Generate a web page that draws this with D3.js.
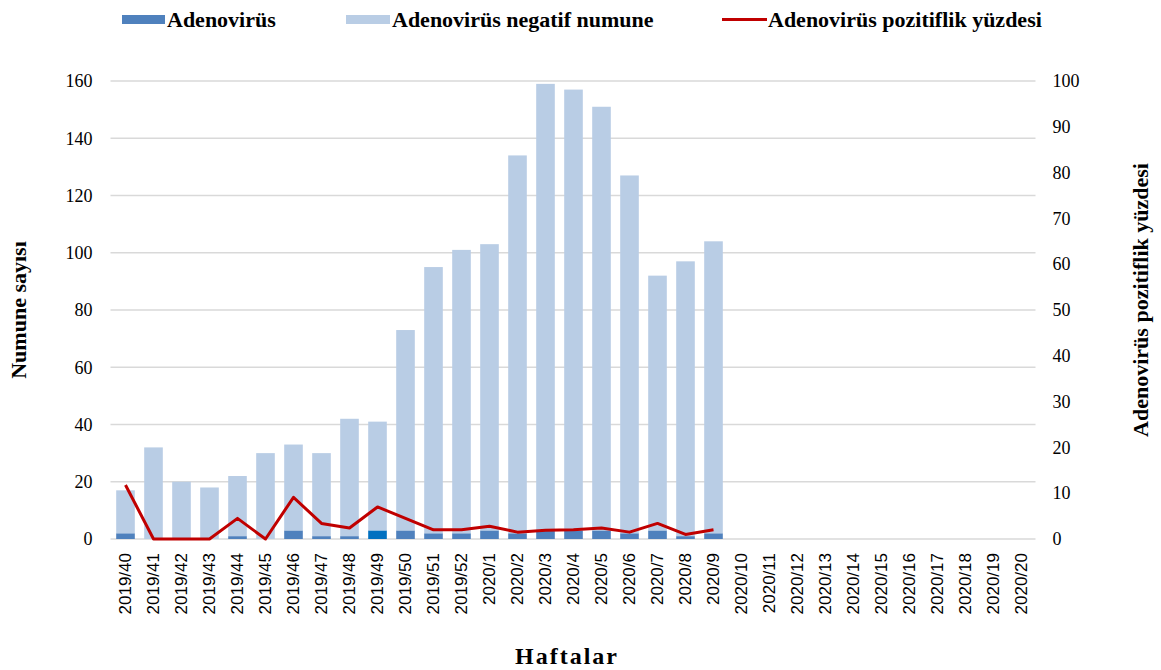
<!DOCTYPE html>
<html>
<head>
<meta charset="utf-8">
<script src="https://cdn.jsdelivr.net/npm/d3@7"></script>
<style>
  html, body { margin: 0; padding: 0; background: #fff; }
  svg { display: block; }
</style>
</head>
<body>
<svg id="chart" width="1161" height="670"></svg>
<script>
// Weeks on the category axis (2019/40 .. 2020/20)
const weeks = [
  "2019/40","2019/41","2019/42","2019/43","2019/44","2019/45","2019/46","2019/47",
  "2019/48","2019/49","2019/50","2019/51","2019/52",
  "2020/1","2020/2","2020/3","2020/4","2020/5","2020/6","2020/7","2020/8","2020/9",
  "2020/10","2020/11","2020/12","2020/13","2020/14","2020/15","2020/16","2020/17",
  "2020/18","2020/19","2020/20"
];

// Adenovirus positive samples per week
const positive = [2,0,0,0,1,0,3,1,1,3,3,2,2,3,2,3,3,3,2,3,1,2];

// Adenovirus negative samples per week (stacked above the positives)
const negative = [15,32,20,18,21,30,30,29,41,38,70,93,99,100,132,156,154,148,125,89,96,102];

// Weekly positivity rate (%)
const positivity = [11.8,0,0,0,4.5,0,9.1,3.4,2.4,7.0,4.5,2.0,2.0,2.8,1.5,1.9,2.0,2.4,1.5,3.4,1.0,2.0];

const leftTicks = [0,20,40,60,80,100,120,140,160];
const rightTicks = [0,10,20,30,40,50,60,70,80,90,100];

const legendLabels = ["Adenovirüs", "Adenovirüs negatif numune", "Adenovirüs pozitiflik yüzdesi"];

const colPos = "#4F81BD";
const colPosStrong = "#0070C0";
const colNeg = "#B9CDE5";
const colLine = "#C00000";
const colGrid = "#D9D9D9";

const serif = "'Liberation Serif', 'Times New Roman', serif";
const sans = "'Liberation Sans', Arial, sans-serif";

const svg = d3.select("#chart");

const plot = { left: 111.5, right: 1035.5, top: 81, bottom: 539 };

const x = d3.scaleBand()
  .domain(weeks)
  .range([plot.left, plot.right])
  .paddingInner(0.335)
  .paddingOuter(0.1675);

const yL = d3.scaleLinear().domain([0, 160]).range([plot.bottom, plot.top]);
const yR = d3.scaleLinear().domain([0, 100]).range([plot.bottom, plot.top]);

// Horizontal gridlines
svg.append("g")
  .selectAll("line")
  .data(leftTicks)
  .join("line")
  .attr("x1", plot.left - 1)
  .attr("x2", plot.right)
  .attr("y1", d => yL(d))
  .attr("y2", d => yL(d))
  .attr("stroke", colGrid)
  .attr("stroke-width", 1.5);

// Left axis (counts)
const leftAxis = svg.append("g")
  .attr("transform", `translate(${plot.left - 19},0)`)
  .call(d3.axisLeft(yL).tickValues(leftTicks).tickSize(0).tickPadding(0));
leftAxis.select(".domain").remove();
leftAxis.selectAll("text")
  .attr("font-family", serif)
  .attr("font-size", 18)
  .attr("fill", "#000");

// Right axis (percent)
const rightAxis = svg.append("g")
  .attr("transform", `translate(${plot.right + 17},0)`)
  .call(d3.axisRight(yR).tickValues(rightTicks).tickSize(0).tickPadding(0));
rightAxis.select(".domain").remove();
rightAxis.selectAll("text")
  .attr("font-family", serif)
  .attr("font-size", 18)
  .attr("fill", "#000");

// Category axis labels, rotated
const bottomAxis = svg.append("g")
  .attr("transform", `translate(0,${plot.bottom})`)
  .call(d3.axisBottom(x).tickSize(0).tickPadding(0));
bottomAxis.select(".domain").remove();
bottomAxis.selectAll("text")
  .attr("font-family", sans)
  .attr("font-size", 17)
  .attr("fill", "#000")
  .attr("text-anchor", "end")
  .attr("transform", "rotate(-90)")
  .attr("x", -14)
  .attr("y", 0)
  .attr("dy", "0.35em");

// Stacked bars
const rows = positive.map((p, i) => ({ week: weeks[i], pos: p, neg: negative[i] }));
const stack = d3.stack().keys(["pos", "neg"])(rows);

const bars = svg.append("g");
bars.selectAll("g")
  .data(stack)
  .join("g")
  .each(function(layer) {
    d3.select(this).selectAll("rect")
      .data(layer)
      .join("rect")
      .attr("x", d => x(d.data.week))
      .attr("width", x.bandwidth())
      .attr("y", d => yL(d[1]))
      .attr("height", d => yL(d[0]) - yL(d[1]))
      .attr("fill", d => layer.key === "neg" ? colNeg
        : (d.data.week === "2019/49" ? colPosStrong : colPos));
  });

// Positivity line on the right scale
const line = d3.line()
  .x((d, i) => x(weeks[i]) + x.bandwidth() / 2)
  .y(d => yR(d));

svg.append("path")
  .datum(positivity)
  .attr("d", line)
  .attr("fill", "none")
  .attr("stroke", colLine)
  .attr("stroke-width", 3)
  .attr("stroke-linejoin", "round");

// Axis titles
svg.append("text")
  .attr("transform", "translate(26,310) rotate(-90)")
  .attr("text-anchor", "middle")
  .attr("font-family", serif)
  .attr("font-weight", "bold")
  .attr("font-size", 22)
  .text("Numune sayısı");

svg.append("text")
  .attr("transform", "translate(1148,300) rotate(-90)")
  .attr("text-anchor", "middle")
  .attr("font-family", serif)
  .attr("font-weight", "bold")
  .attr("font-size", 22)
  .text("Adenovirüs pozitiflik yüzdesi");

svg.append("text")
  .attr("x", 567)
  .attr("y", 664)
  .attr("text-anchor", "middle")
  .attr("font-family", serif)
  .attr("font-weight", "bold")
  .attr("font-size", 24)
  .attr("letter-spacing", 2)
  .text("Haftalar");

// Legend
const legend = svg.append("g").attr("font-family", serif).attr("font-weight", "bold").attr("font-size", 22);
legend.append("rect").attr("x", 122).attr("y", 15).attr("width", 43).attr("height", 9).attr("fill", colPos);
legend.append("text").attr("x", 167).attr("y", 27).text(legendLabels[0]);
legend.append("rect").attr("x", 346).attr("y", 15).attr("width", 44).attr("height", 9).attr("fill", colNeg);
legend.append("text").attr("x", 392).attr("y", 27).text(legendLabels[1]);
legend.append("line").attr("x1", 722).attr("x2", 767).attr("y1", 19.5).attr("y2", 19.5)
  .attr("stroke", colLine).attr("stroke-width", 3);
legend.append("text").attr("x", 768).attr("y", 27).text(legendLabels[2]);
</script>
</body>
</html>
